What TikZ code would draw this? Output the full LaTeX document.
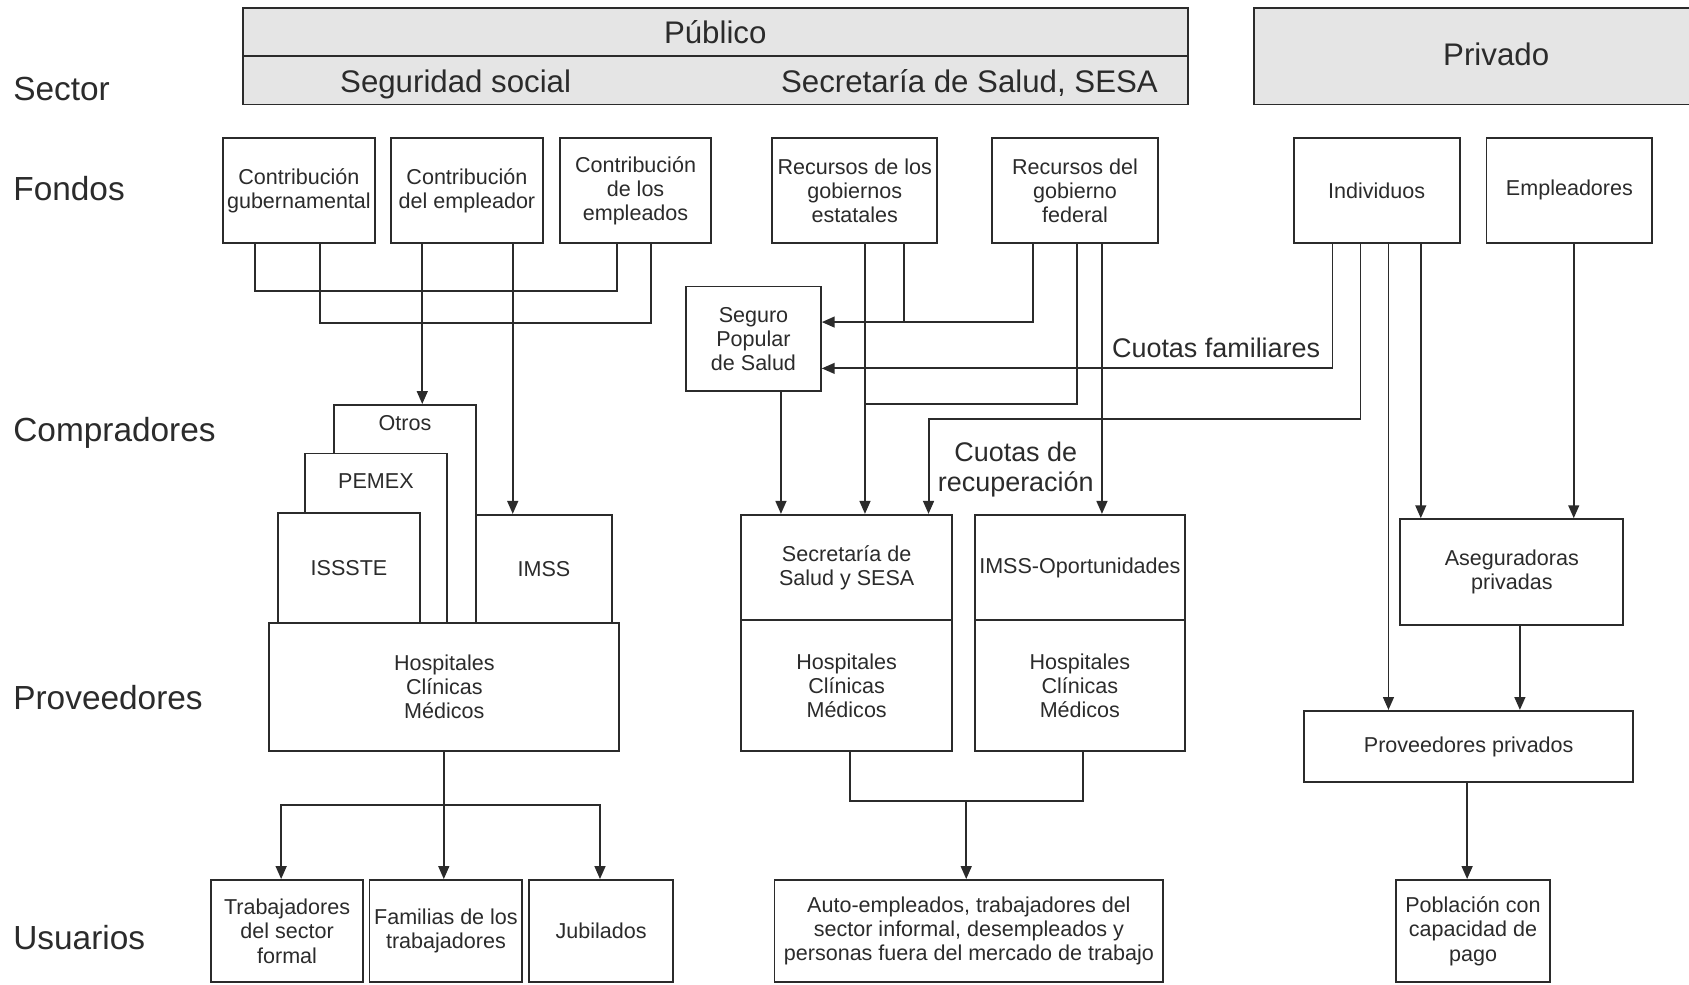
\documentclass[tikz,border=0pt]{standalone}
\usepackage{fontspec}
\setmainfont{Liberation Sans}
\usetikzlibrary{arrows.meta}
\definecolor{ln}{HTML}{2B2B2B}
\definecolor{barfill}{HTML}{E5E5E5}
\newcommand\mkbox[6]{\node[bx, minimum width={(#4-#2)*0.5pt}, minimum height={(#5-#3)*0.5pt}] (#1) at ({(#2+#4)/2},{(#3+#5)/2}) {#6};}
\begin{document}
\begin{tikzpicture}[x=0.5pt,y=-0.5pt,
  bx/.style={draw=ln, line width=0.9pt, fill=white, inner sep=1pt, align=center, text=ln,
     font=\fontsize{10}{11.2}\selectfont},
  barst/.style={draw=ln, line width=0.9pt, fill=barfill, inner sep=0pt, text=ln},
  rowlab/.style={anchor=west, inner sep=0pt, text=ln, font=\fontsize{15.5}{18}\selectfont},
  biglab/.style={anchor=base, inner sep=0pt, text=ln, font=\fontsize{14.5}{17}\selectfont},
  midlab/.style={inner sep=0pt, text=ln, align=center, font=\fontsize{12.5}{14}\selectfont},
  small/.style={inner sep=0pt, text=ln, font=\fontsize{10}{11.2}\selectfont},
  con/.style={draw=ln, line width=0.9pt},
  arr/.style={con, -{Triangle[length=6pt,width=5pt]}}]
\useasboundingbox (0,0) rectangle (1568,914);
\fill[white] (0,0) rectangle (1568,914);

% row labels
\node[rowlab] (lsector) at (12,83) {Sector};
\node[rowlab] (lfondos) at (12,175) {Fondos};
\node[rowlab] (lcomp) at (12,402) {Compradores};
\node[rowlab] (lprov) at (12,648) {Proveedores};
\node[rowlab] (lusu) at (12,870) {Usuarios};

% sector bars
\node[barst, minimum width=438.5pt, minimum height=22.5pt] (pub) at (664.5,29.5) {};
\node[barst, minimum width=438.5pt, minimum height=22.5pt] (pubrow) at (664.5,74.5) {};
\node[biglab] (pubt) at (664,40) {Público};
\node[biglab] (ss) at (423,86) {Seguridad social};
\node[biglab] (ssa) at (900,86) {Secretaría de Salud, SESA};
\node[barst, minimum width=218pt, minimum height=45pt] (priv) at (1382,52) {};
\node[biglab] (privt) at (1389,61) {Privado};

% fondos
\mkbox{gub}{207}{128}{348}{226}{Contribución\\gubernamental}
\mkbox{empl}{363}{128}{504}{226}{Contribución\\del empleador}
\mkbox{emps}{520}{128}{660}{226}{Contribución\\de los\\empleados}
\mkbox{est}{717}{128}{870}{226}{Recursos de los\\gobiernos\\estatales}
\mkbox{fed}{921}{128}{1075}{226}{Recursos del\\gobierno\\federal}
\mkbox{ind}{1201}{128}{1355}{226}{Individuos}
\mkbox{emp}{1380}{128}{1534}{226}{\strut Empleadores}

% seguro popular
\mkbox{seg}{637}{266}{762}{363}{Seguro\\Popular\\de Salud}

% compradores (stacked)
\node[bx, minimum width=66pt, minimum height=101pt,
  label={[small, anchor=north, yshift=-5pt]north:Otros}] (otros) at (376,477) {};
\node[bx, minimum width=66pt, minimum height=78.5pt,
  label={[small, anchor=north, yshift=-9.5pt]north:PEMEX}] (pemex) at (349,499.5) {};
\mkbox{issste}{258}{476}{390}{578}{ISSSTE}
\mkbox{imss}{442}{478}{568}{578}{IMSS}
\mkbox{hosp}{250}{578}{575}{697}{Hospitales\\Clínicas\\Médicos}

\mkbox{sec}{688}{478}{884}{576}{Secretaría de\\Salud y SESA}
\mkbox{sech}{688}{576}{884}{697}{Hospitales\\Clínicas\\Médicos}
\mkbox{imsso}{905}{478}{1100}{576}{IMSS-Oportunidades}
\mkbox{imssoh}{905}{576}{1100}{697}{Hospitales\\Clínicas\\Médicos}

\mkbox{aseg}{1300}{482}{1507}{580}{Aseguradoras\\privadas}
\mkbox{provp}{1211}{660}{1516}{726}{Proveedores privados}

% usuarios
\mkbox{trab}{196}{817}{337}{912}{Trabajadores\\del sector\\formal}
\mkbox{fam}{343}{817}{485}{912}{Familias de los\\trabajadores}
\mkbox{jub}{491}{817}{625}{912}{Jubilados}
\mkbox{auto}{719}{817}{1080}{912}{Auto-empleados, trabajadores del\\sector informal, desempleados y\\personas fuera del mercado de trabajo}
\mkbox{pob}{1296}{817}{1439}{912}{Población con\\capacidad de\\pago}

% connectors: seguridad social funds
\draw[con] (gub.south -| 237,0) -- (237,270) -- (573,270) -- (emps.south -| 573,0);
\draw[con] (gub.south -| 297,0) -- (297,300) -- (604,300) -- (emps.south -| 604,0);
\draw[arr] (empl.south -| 392,0) -- (otros.north -| 392,0);
\draw[arr] (empl.south -| 476,0) -- (imss.north -| 476,0);

% SESA funds
\draw[arr] (est.south -| 803,0) -- (sec.north -| 803,0);
\draw[con] (est.south -| 839,0) -- (839,299);
\draw[arr] (fed.south -| 959,0) -- (959,299) -- (seg.east |- 0,299);
\draw[con] (fed.south -| 1000,0) -- (1000,375) -- (803,375);
\draw[arr] (fed.south -| 1023,0) -- (imsso.north -| 1023,0);
\draw[arr] (seg.south -| 725,0) -- (sec.north -| 725,0);

% individuos / empleadores
\draw[arr] (ind.south -| 1237,0) -- (1237,342) -- (seg.east |- 0,342);
\node[midlab] (cfam) at (1129,323) {Cuotas familiares};
\draw[arr] (ind.south -| 1263,0) -- (1263,389) -- (862,389) -- (sec.north -| 862,0);
\node[midlab] (crec) at (943,436) {Cuotas de\\recuperación};
\draw[arr] (ind.south -| 1289,0) -- (provp.north -| 1289,0);
\draw[arr] (ind.south -| 1319,0) -- (aseg.north -| 1319,0);
\draw[arr] (emp.south -| 1461,0) -- (aseg.north -| 1461,0);
\draw[arr] (aseg.south -| 1411,0) -- (provp.north -| 1411,0);
\draw[arr] (provp.south -| 1362,0) -- (pob.north -| 1362,0);

% providers to users
\draw[arr] (hosp.south -| 412,0) -- (fam.north -| 412,0);
\draw[arr] (hosp.south -| 412,0) -- (412,747) -- (261,747) -- (trab.north -| 261,0);
\draw[arr] (412,747) -- (557,747) -- (jub.north -| 557,0);
\draw[con] (sech.south -| 789,0) -- (789,744) -- (1005,744) -- (imssoh.south -| 1005,0);
\draw[arr] (897,744) -- (auto.north -| 897,0);
\end{tikzpicture}
\end{document}
